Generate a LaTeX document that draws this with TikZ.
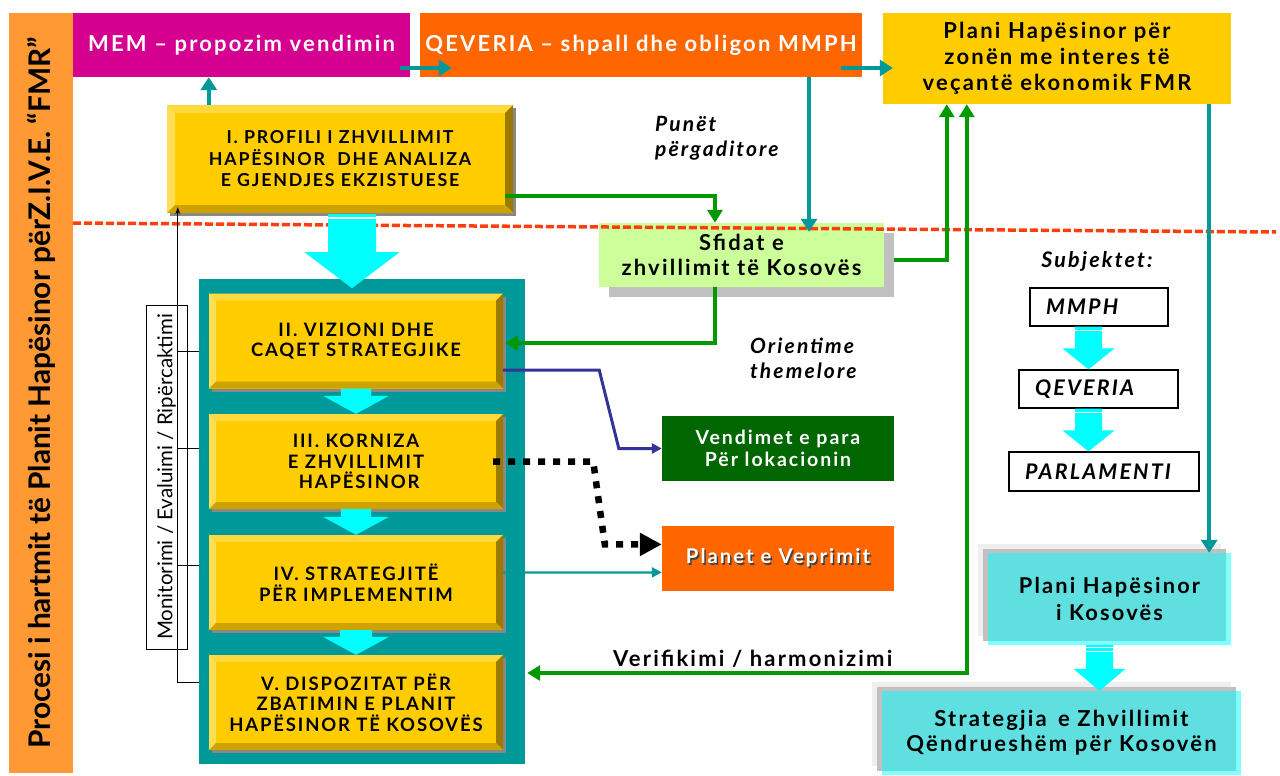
\documentclass[tikz,border=0pt]{standalone}
\usepackage{fontspec}
\setmainfont{Lato}[LetterSpace=10]
\newfontfamily\plainfont{Lato}
\usetikzlibrary{arrows.meta,calc,positioning,shadows}

\definecolor{barorange}{HTML}{FF9933}
\definecolor{memmagenta}{HTML}{D5008F}
\definecolor{qevorange}{HTML}{FF6600}
\definecolor{fmryellow}{HTML}{FFCC00}
\definecolor{bevtop}{HTML}{FFD93D}
\definecolor{bevleft}{HTML}{FFDD55}
\definecolor{bevright}{HTML}{9C7A00}
\definecolor{bevbottom}{HTML}{CCA300}
\definecolor{stepshadow}{HTML}{888888}
\definecolor{stackteal}{HTML}{009999}
\definecolor{arrowcyan}{HTML}{00FFFF}
\definecolor{linkgreen}{HTML}{009900}
\definecolor{vendgreen}{HTML}{006600}
\definecolor{linkblue}{HTML}{333399}
\definecolor{sfidgreen}{HTML}{CCFF99}
\definecolor{shadowlight}{HTML}{C0C0C0}
\definecolor{shadowpale}{HTML}{EFEFEF}
\definecolor{dashred}{HTML}{FF3D0D}

\newcommand\topfont{\bfseries\fontsize{22}{26}\selectfont}
\newcommand\fmrfont{\bfseries\fontsize{22}{26}\selectfont}
\newcommand\proffont{\bfseries\fontsize{17.8}{21.5}\selectfont}
\newcommand\stepfont{\bfseries\fontsize{18.5}{20.5}\selectfont}
\newcommand\sfidfont{\bfseries\fontsize{22}{25}\selectfont}
\newcommand\vendfont{\bfseries\fontsize{19.5}{22.5}\selectfont}
\newcommand\planfont{\bfseries\fontsize{20.3}{24}\selectfont}
\newcommand\labelit{\bfseries\itshape\fontsize{21}{25}\selectfont}
\newcommand\verifont{\bfseries\fontsize{22}{25}\selectfont}
\newcommand\subjfont{\bfseries\itshape\fontsize{21.5}{24}\selectfont}
\newcommand\kosfont{\bfseries\fontsize{21.8}{27}\selectfont}
\newcommand\stragfont{\bfseries\fontsize{22}{25}\selectfont}
\newcommand\barfont{\plainfont\bfseries\fontsize{29.8}{32}\selectfont}
\newcommand\monfont{\plainfont\fontsize{20.5}{22}\selectfont}

% bevel faces of the yellow step boxes
\newcommand\bevelfaces[1]{%
  \path (path picture bounding box.south west) coordinate (ppsw)
        (path picture bounding box.north east) coordinate (ppne)
        (path picture bounding box.north west) coordinate (ppnw)
        (path picture bounding box.south east) coordinate (ppse);
  \fill[bevtop] (ppnw) -- (ppne) -- ([shift={(-#1,-#1)}]ppne) -- ([shift={(#1,-#1)}]ppnw) -- cycle;
  \fill[bevleft] (ppsw) -- (ppnw) -- ([shift={(#1,-#1)}]ppnw) -- ([shift={(#1,#1)}]ppsw) -- cycle;
  \fill[bevright] (ppne) -- (ppse) -- ([shift={(-#1,#1)}]ppse) -- ([shift={(-#1,-#1)}]ppne) -- cycle;
  \fill[bevbottom] (ppsw) -- (ppse) -- ([shift={(-#1,#1)}]ppse) -- ([shift={(#1,#1)}]ppsw) -- cycle;
}
% wide cyan arrow: from, tip, shaft half width, head half width, head length
\newcommand\blockarrow[5]{%
  \fill[arrowcyan] ($(#1)+(-#3,0)$) -- ($(#1)+(#3,0)$) -- ($(#2)+(#3,-#5)$) -- ($(#2)+(#4,-#5)$)
    -- (#2) -- ($(#2)+(-#4,-#5)$) -- ($(#2)+(-#3,-#5)$) -- cycle;
}
\newcommand\shadowed[1]{\makebox[0pt][l]{\hspace{1.5pt}\raisebox{-1.5pt}{\color{black!75}#1}}#1}

\begin{document}
\begin{tikzpicture}[x=1pt,y=-1pt]
\tikzstyle{topbox}=[minimum height=64pt, inner sep=0pt, text=white, font=\topfont]
\tikzstyle{stepbox}=[fill=fmryellow, minimum width=294pt, minimum height=95pt, inner sep=0pt, align=center, font=\stepfont,
  general shadow={fill=stepshadow, shadow xshift=3pt, shadow yshift=-3pt, path picture={}}, path picture={\bevelfaces{7pt}}]
\tikzstyle{flatbox}=[minimum width=232pt, minimum height=65pt, inner sep=0pt, align=center, text=white, font=\vendfont]
\tikzstyle{subjbox}=[draw=black, line width=1.2pt, minimum height=38pt, inner xsep=16pt, inner ysep=0pt, align=left, font=\subjfont]
\tikzstyle{kosbox}=[fill=arrowcyan, fill opacity=0.5, text opacity=1, inner sep=0pt, align=center, font=\kosfont,
  general shadow={fill=shadowpale, fill opacity=1, shadow xshift=-10pt, shadow yshift=9pt},
  general shadow={fill=shadowlight, fill opacity=1, shadow xshift=-5pt, shadow yshift=4pt}]
\tikzstyle{teallink}=[draw=stackteal, line width=4pt, -{Triangle[length=13pt,width=16pt]}]
\tikzstyle{greenlink}=[draw=linkgreen, line width=3.5pt, -{Triangle[length=13pt,width=15pt]}]
\tikzstyle{bluelink}=[draw=linkblue, line width=3pt, -{Triangle[length=10pt,width=10pt]}]
\tikzstyle{thinteal}=[draw=stackteal, line width=2.2pt, -{Triangle[length=10pt,width=10pt]}]
\tikzstyle{dotlink}=[draw=black, line width=6.5pt, dash pattern=on 7pt off 8pt, -{Triangle[length=22pt,width=22pt]}]
\tikzstyle{monlink}=[draw=black, line width=1pt]
\useasboundingbox (0,0) rectangle (1280,776);

% header row
\node[fill=barorange, minimum width=760pt, minimum height=64pt, inner sep=0pt, rotate=90, font=\barfont] (bar) at (41,393)
  {Procesi i hartmit të Planit Hapësinor përZ.I.V.E. “FMR”};
\node[topbox, fill=memmagenta, minimum width=337pt] (mem) at (241.5,45) {MEM – propozim vendimin};
\node[topbox, fill=qevorange, minimum width=442pt] (qev) at (641,45) {QEVERIA – shpall dhe obligon MMPH};
\node[fill=fmryellow, minimum width=348pt, minimum height=91pt, inner sep=0pt, align=center, font=\fmrfont] (fmr) at (1057,58.5)
  {Plani Hapësinor për\\zonën me interes të\\veçantë ekonomik FMR};

% phases
\node[stepbox, minimum width=346pt, minimum height=108pt, font=\proffont, path picture={\bevelfaces{8pt}}] (profili) at (340,159)
  {I. PROFILI I ZHVILLIMIT\\HAPËSINOR \ DHE ANALIZA\\E GJENDJES EKZISTUESE};
\node[fill=stackteal, minimum width=326pt, minimum height=485pt] (stack) at (362,521.5) {};
\node[stepbox] (vizioni) at (356,341) {II. VIZIONI DHE\\CAQET STRATEGJIKE};
\node[stepbox] (korniza) at (356,461.5) {III. KORNIZA\\E ZHVILLIMIT\\ \ HAPËSINOR};
\node[stepbox] (strat) at (356,582.5) {IV. STRATEGJITË\\PËR IMPLEMENTIM};
\node[stepbox] (dispoz) at (356,702.5) {V. DISPOZITAT PËR\\ZBATIMIN E PLANIT\\HAPËSINOR TË KOSOVËS};
\node[draw=black, line width=1pt, minimum width=344pt, minimum height=41pt, inner sep=0pt, rotate=90, font=\monfont] (monitor) at (166.5,477)
  {Monitorimi / Evaluimi / Ripërcaktimi};

% middle column
\node[fill=sfidgreen, minimum width=285pt, minimum height=64pt, inner sep=0pt, align=center, font=\sfidfont,
  general shadow={fill=shadowlight, shadow xshift=10pt, shadow yshift=-10pt}] (sfidat) at (741.5,255)
  {Sfidat e\\zhvillimit të Kosovës};
\node[flatbox, fill=vendgreen] (vend) at (778,448.5) {Vendimet e para\\Për lokacionin};
\node[flatbox, fill=qevorange, font=\planfont, below=45pt of vend] (planet) {\shadowed{Planet e Veprimit}};
\node[font=\labelit, align=left, anchor=west, inner sep=0pt] (punet) at (655,138) {Punët\\përgaditore};
\node[font=\labelit, align=left, anchor=west, inner sep=0pt] (orient) at (750,358) {Orientime\\themelore};
\node[font=\verifont, anchor=west, inner sep=0pt] (verif) at (613,659) {Verifikimi / harmonizimi};

% right column
\node[font=\subjfont, inner sep=0pt] (subj) at (1097,261) {Subjektet:};
\node[subjbox, text width=106pt] (mmph) at (1099,307) {MMPH};
\node[subjbox, text width=127pt] (qev2) at (1098.5,389) {QEVERIA};
\node[subjbox, text width=158pt, minimum height=39pt] (parl) at (1104,471.5) {PARLAMENTI};
\node[kosbox, minimum width=243pt, minimum height=92pt] (kos) at (1109.5,599) {Plani Hapësinor\\i Kosovës};
\node[kosbox, minimum width=359pt, minimum height=84pt, font=\stragfont] (strag) at (1061.5,733) {Strategjia \,e Zhvillimit\\Qëndrueshëm për Kosovën};

% dividing line
\coordinate (cutleft) at (73,223);
\coordinate (cutright) at (1276,232);
\draw[dashred, line width=3.5pt, dash pattern=on 8pt off 3pt] (cutleft) -- (cutright);

% wide arrows
\coordinate (a1) at ($(profili.south)+(12,1)$);
\coordinate (a1tip) at ($(a1)+(0,74)$);
\blockarrow{a1}{a1tip}{24}{47.5}{36}
\draw[white, line width=2pt] ($(a1)+(-24,4)$) -- ($(a1)+(24,4)$);
\blockarrow{vizioni.south}{korniza.north}{15}{33}{18}
\blockarrow{korniza.south}{strat.north}{15}{33}{18}
\blockarrow{strat.south}{dispoz.north}{16}{33}{18}
\coordinate (a5) at ($(mmph.south)+(-10.5,0)$);
\coordinate (a5tip) at (a5 |- qev2.north);
\blockarrow{a5}{a5tip}{13.5}{26}{21}
\coordinate (a6) at ($(qev2.south)+(-10,0)$);
\coordinate (a6tip) at (a6 |- parl.north);
\blockarrow{a6}{a6tip}{13.5}{26}{21}
\coordinate (a7) at ($(kos.south)+(-10,0)$);
\coordinate (a7tip) at (a7 |- strag.north);
\blockarrow{a7}{a7tip}{13.5}{26}{22}
\foreach \s in {a5,a6} \draw[white, line width=1.5pt] ($(\s)+(-13.5,4)$) -- ($(\s)+(13.5,4)$);
\foreach \dy in {2,6} \draw[white, line width=1.2pt] ($(a7)+(-13.5,\dy)$) -- ($(a7)+(13.5,\dy)$);

% teal links
\coordinate (memup) at ($(profili.north west)+(42,0)$);
\draw[teallink] (memup) -- (memup |- mem.south);
\draw[teallink] ($(mem.east)+(-10,23)$) -- ($(qev.west)+(32,23)$);
\draw[teallink] ($(qev.east)+(-21,23)$) -- ($(fmr.west)+(10,9.5)$);
\coordinate (qevdown) at ($(qev.south)+(168,0)$);
\draw[teallink] (qevdown) -- ($(qevdown |- sfidat.north)+(0,9)$);
\coordinate (fmrdown) at ($(fmr.south east)+(-22,0)$);
\draw[teallink] (fmrdown) -- (fmrdown |- kos.north);

% green links
\draw[greenlink] ($(profili.east)+(-8,37)$) -| ($(sfidat.north)+(-26.5,0)$);
\draw[greenlink] ($(sfidat.south)+(-26.5,0)$) |- ($(vizioni.east)+(2,2)$);
\draw[greenlink] ($(sfidat.east)+(10,5)$) -| ($(fmr.south west)+(64,0)$);
\draw[greenlink, {Triangle[length=13pt,width=15pt]}-{Triangle[length=13pt,width=15pt]}] ($(stack.east)+(2,151.5)$) -| ($(fmr.south west)+(84,0)$);

% outputs
\draw[bluelink] ($(vizioni.east)+(0,29)$) -- ++(96,0) -- ($(vend.west)+(-43,0)$) -- (vend.west);
\draw[dotlink] ($(korniza.east)+(-10,0)$) -- ++(100,0) -- ($(planet.west)+(-57,-14.5)$) -- ($(planet.west)+(0,-14.5)$);
\draw[thinteal] ($(strat.east)+(0,-10)$) -- ($(planet.west)+(0,13.5)$);

% monitoring feedback
\draw[monlink, -{Stealth[length=7pt,width=5pt]}] ($(stack.west)+(0,160.5)$) -- ++(-21,0) -- ($(profili.south west)+(11,-6)$);
\foreach \dy in {-170.5,-73.5,43.5}
  \draw[monlink] ($(stack.west)+(0,\dy)$) -- ++(-21,0);
\end{tikzpicture}
\end{document}
